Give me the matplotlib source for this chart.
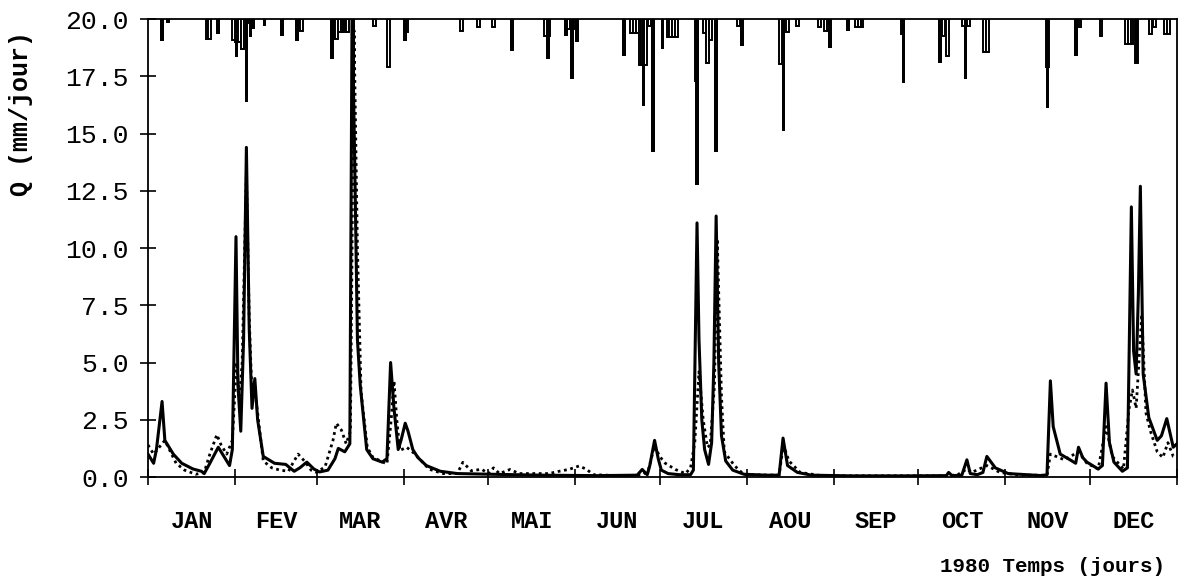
import matplotlib
matplotlib.use("Agg")
import matplotlib.pyplot as plt
from matplotlib.ticker import FixedLocator, NullFormatter

# --- debit observe (trait plein), jours depuis le 1er janvier 1980 ---
q_obs_jours = [0, 2, 3, 5, 6, 7, 9, 12, 16, 19, 20, 22, 25, 27, 29, 30, 31.3, 32, 33, 34,
               35, 36, 37, 38, 39, 41, 45, 49, 52, 54, 56.5, 59, 61, 64, 66.5, 67.7, 70, 71.8,
               72.6, 73.5, 74.5, 75.5, 77.8, 80, 83.3, 85, 86.3, 87.5, 89, 90, 91.5, 92.5, 94.2,
               96, 99, 104, 110, 122, 140, 160, 174, 175.8, 177.6, 178.5, 180.2, 181.5, 182.6,
               185, 189, 193, 194, 195.3, 196, 197, 198, 199.4, 200.5, 201.3, 202.1, 203, 204,
               205.5, 208, 212, 220, 224.5, 225.9, 227.5, 231, 236, 250, 270, 284, 284.8, 286,
               289.5, 291.3, 292.5, 295, 297, 298.4, 301.4, 306, 318, 319.8, 321, 322, 324.5,
               328, 330, 331, 332.5, 334, 338, 339.5, 340.8, 342, 343.6, 346.6, 348.4, 349.8,
               350.6, 351.5, 352.3, 353, 354, 356, 359, 360.5, 362.4, 364.7, 366]
q_obs = [1.0, 0.6, 1.2, 3.3, 1.6, 1.4, 1.0, 0.6, 0.35, 0.25, 0.15, 0.6, 1.3, 0.9, 0.5, 1.2, 10.5,
         4.0, 2.0, 6.0, 14.4, 6.5, 3.0, 4.3, 2.5, 0.9, 0.6, 0.55, 0.25, 0.4, 0.65, 0.35, 0.22,
         0.3, 0.8, 1.25, 1.1, 1.45, 20.5, 14.0, 6.0, 4.0, 1.2, 0.8, 0.65, 0.8, 5.0, 3.0, 1.2,
         1.6, 2.35, 2.0, 1.2, 0.85, 0.5, 0.25, 0.15, 0.12, 0.08, 0.06, 0.08, 0.33, 0.1, 0.5,
         1.6, 0.8, 0.3, 0.15, 0.1, 0.1, 0.3, 11.1, 6.0, 2.5, 1.2, 0.55, 1.5, 5.0, 11.4, 5.0,
         1.8, 0.7, 0.3, 0.12, 0.08, 0.08, 1.7, 0.5, 0.2, 0.08, 0.05, 0.05, 0.06, 0.2, 0.06,
         0.08, 0.75, 0.15, 0.1, 0.2, 0.9, 0.4, 0.15, 0.06, 0.1, 4.2, 2.2, 1.0, 0.75, 0.6, 1.3,
         0.85, 0.65, 0.35, 0.5, 4.1, 1.5, 0.65, 0.25, 0.4, 11.8, 5.5, 4.5, 8.0, 12.7, 4.5, 2.6,
         1.6, 1.8, 2.55, 1.3, 1.45]

# --- debit simule (pointilles) ---
q_sim_jours = [0, 2, 4, 6, 8, 10, 13, 17, 20, 22, 24.5, 26, 28, 30, 31.5, 32.5, 33.5, 35, 36,
               37, 38, 39, 41, 44, 47, 50, 51.5, 53.4, 56, 58, 60, 63, 65.8, 67, 68.8, 70.5, 72,
               73.3, 74.5, 75.8, 78, 80, 85, 86.5, 87.5, 88.5, 89.6, 92, 95, 100, 105, 110, 112,
               115, 118.7, 121, 122.9, 125, 128.8, 132, 142.6, 146.2, 149.7, 153.3, 155.6,
               158.6, 170, 176, 178, 180.2, 182, 184, 187.6, 191.2, 193, 194.5, 196, 197.5, 199,
               200, 201.5, 202.5, 204, 205, 208.6, 212, 224.5, 226, 228, 232, 240, 284, 288,
               291.3, 293, 298.4, 300, 303, 310, 319.8, 321, 323, 326, 331, 334, 338, 340.8, 343,
               347, 349, 350.2, 351.5, 353.5, 355, 356.6, 359, 361, 362.8, 364.7, 366]
q_sim = [1.4, 1.0, 1.3, 1.6, 1.1, 0.6, 0.3, 0.12, 0.2, 1.0, 1.85, 1.4, 1.0, 1.6, 5.0, 3.5, 5.0,
         13.3, 7.0, 3.5, 3.8, 2.8, 0.7, 0.4, 0.3, 0.25, 0.6, 1.0, 0.65, 0.3, 0.2, 0.45, 1.6,
         2.35, 2.05, 1.45, 2.0, 19.5, 10.0, 3.7, 1.3, 0.86, 0.57, 2.5, 4.2, 2.5, 1.16, 1.3, 1.0,
         0.34, 0.15, 0.15, 0.64, 0.27, 0.34, 0.15, 0.4, 0.15, 0.33, 0.15, 0.15, 0.25, 0.33,
         0.48, 0.36, 0.1, 0.05, 0.1, 0.3, 1.37, 0.9, 0.6, 0.33, 0.15, 0.4, 1.5, 4.6, 2.5, 1.3,
         1.4, 4.0, 10.4, 3.5, 1.1, 0.5, 0.1, 0.08, 1.4, 0.7, 0.2, 0.05, 0.05, 0.1, 0.35, 0.2,
         0.5, 0.4, 0.2, 0.08, 0.08, 1.0, 0.9, 0.75, 1.1, 0.6, 0.35, 2.2, 0.9, 0.35, 3.0, 3.8,
         3.0, 7.1, 2.8, 2.0, 1.1, 0.85, 1.5, 0.9, 0.85]

# --- pluies (barres noires), profondeur depuis le haut ---
pluie_jours = [5, 7, 25, 31.5, 35, 36.5, 37.5, 41.5, 47.7, 53, 65.4, 69.5, 73, 91.5, 129.5,
               142.4, 148.8, 150.8, 152.5, 169.4, 176.2, 179.7, 183, 195.3, 202.1, 211.4, 226,
               242.5, 249, 268.8, 281.8, 290.8, 320, 330, 351.6]
pluie = [0.95, 0.17, 0.65, 1.67, 3.64, 0.8, 0.45, 0.3, 0.73, 0.95, 1.75, 0.58, 5.0, 0.95, 1.38,
         1.75, 0.73, 2.6, 1.0, 1.63, 3.8, 5.8, 1.3, 7.25, 5.8, 1.16, 4.9, 1.24, 0.5, 2.77, 1.9,
         2.6, 3.9, 1.6, 1.9]

# --- barres creuses ---
creux_jours = [21, 22, 30.5, 31.5, 32.5, 33.5, 34.5, 36.5, 54.5, 66, 67, 68, 69, 70, 71, 80.5,
               85.5, 92, 111.4, 117.7, 122.8, 141.5, 142.5, 149.5, 150.5, 151.5, 172, 173, 174,
               175, 176, 177, 178.5, 185, 186, 187, 188, 195, 198, 199, 200, 210, 225, 227.5,
               231, 239, 241, 242, 252, 253, 254, 268.5, 283, 284.5, 290, 291, 292, 297.5,
               298.5, 320, 331.5, 339, 348, 349, 350, 351.5, 356.5, 358, 362, 363]
creux = [0.87, 0.87, 0.9, 1.0, 1.0, 1.3, 1.3, 0.15, 0.5, 0.87, 0.87, 0.58, 0.58, 0.58, 0.58,
         0.3, 2.1, 0.58, 0.5, 0.35, 0.36, 0.73, 0.73, 0.45, 0.45, 0.45, 0.6, 0.6, 0.6, 2.0,
         2.0, 2.0, 0.3, 0.8, 0.8, 0.8, 0.8, 2.7, 0.6, 1.9, 0.9, 0.3, 1.96, 0.58, 0.3, 0.35,
         0.5, 0.5, 0.35, 0.35, 0.35, 0.65, 0.73, 1.6, 0.3, 0.3, 0.3, 1.45, 1.45, 2.1, 0.36,
         0.73, 1.1, 1.1, 1.1, 1.9, 0.65, 0.36, 0.65, 0.65]

mois = ["JAN", "FEV", "MAR", "AVR", "MAI", "JUN", "JUL", "AOU", "SEP", "OCT", "NOV", "DEC"]
debut_mois = [0, 31, 60, 91, 121, 152, 182, 213, 244, 274, 305, 335, 366]

police = "Liberation Mono"
QMAX = 20.0

fig = plt.figure(figsize=(11.84, 5.81), dpi=100)
ax = fig.add_axes([0.125, 0.179, 0.869, 0.788])

ax.bar(creux_jours, creux, bottom=[QMAX - c for c in creux], width=1.0,
       facecolor="white", edgecolor="black", linewidth=1.4, zorder=1)
ax.bar(pluie_jours, pluie, bottom=[QMAX - p for p in pluie], width=1.3,
       color="black", zorder=1.5)

ax.plot(q_sim_jours, q_sim, color="black", linestyle=(0, (1, 1.3)), linewidth=2.0, zorder=2)
ax.plot(q_obs_jours, q_obs, color="black", linewidth=2.2, zorder=3)

ax.set_xlim(0, 366)
ax.set_ylim(0, QMAX)

ax.set_yticks([0, 2.5, 5, 7.5, 10, 12.5, 15, 17.5, 20])
ax.set_yticklabels([f"{v:.1f}" for v in ax.get_yticks()], family=police, fontsize=19)
ax.tick_params(axis="y", direction="inout", length=12, width=1.2, pad=8)

ax.xaxis.set_major_locator(FixedLocator(debut_mois))
ax.xaxis.set_major_formatter(NullFormatter())
milieux = [(a + b) / 2 for a, b in zip(debut_mois[:-1], debut_mois[1:])]
ax.xaxis.set_minor_locator(FixedLocator(milieux))
ax.set_xticklabels(mois, minor=True, family=police, fontsize=17, fontweight="bold")
ax.tick_params(axis="x", which="major", direction="inout", length=12, width=1.2)
ax.tick_params(axis="x", which="minor", length=0, pad=24)

for s in ax.spines.values():
    s.set_linewidth(1.3)

fig.text(0.984, 1 - 566 / 581, "1980 Temps (jours)", family=police, fontsize=15,
         fontweight="bold", ha="right", va="center")
fig.text(0.018, 1 - 114 / 581, "Q (mm/jour)", family=police, fontsize=18,
         fontweight="bold", rotation=90, ha="center", va="center")

fig.savefig("out.png", dpi=100)
